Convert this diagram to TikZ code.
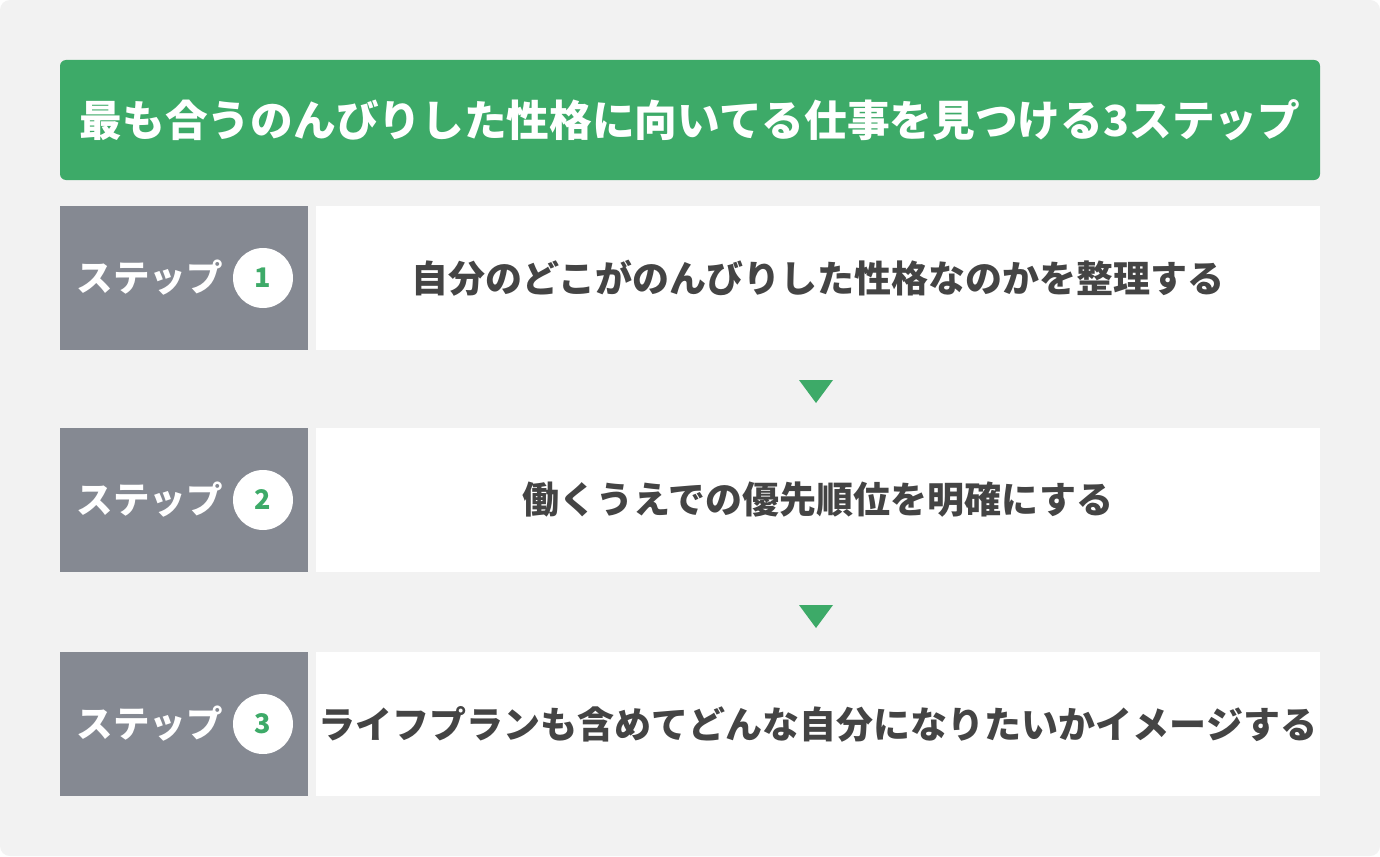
\documentclass[tikz,border=0pt]{standalone}
\usepackage{fontspec}
\newfontfamily\jp{Noto Sans CJK JP}
\definecolor{bgc}{HTML}{F2F2F2}
\definecolor{grn}{HTML}{3DAA68}
\definecolor{gry}{HTML}{858992}
\definecolor{txt}{HTML}{444444}
\tikzset{
  stepbox/.style={fill=gry, draw=none, minimum width=248pt, minimum height=144pt, inner sep=0pt},
  textbox/.style={fill=white, draw=none, minimum width=1004pt, minimum height=144pt, inner sep=0pt, text=txt, font=\jp\bfseries\fontsize{37}{40}\selectfont},
  steplabel/.style={text=white, font=\jp\bfseries\fontsize{36.5}{40}\selectfont, inner sep=0pt, anchor=east},
  numc/.style={circle, fill=white, minimum size=60pt, inner sep=0pt, text=grn, font=\jp\bfseries\fontsize{27}{30}\selectfont},
  tri/.style={fill=grn, draw=none}
}
\begin{document}
\begin{tikzpicture}[x=1pt,y=-1pt]
\useasboundingbox (0,0) rectangle (1380,856);
\fill[white] (0,0) rectangle (1380,856);
\fill[bgc, rounded corners=10pt] (0,0) rectangle (1380,856);
\node[fill=grn, rounded corners=6pt, minimum width=1260pt, minimum height=120pt, inner sep=0pt, text=white, font=\jp\bfseries\fontsize{42.7}{46}\selectfont] (title) at (690,120) {最も合うのんびりした性格に向いてる仕事を見つける3ステップ};
\foreach \i/\y/\t in {1/278/{自分のどこがのんびりした性格なのかを整理する},2/500/{働くうえでの優先順位を明確にする},3/724/{ライフプランも含めてどんな自分になりたいかイメージする}}{
  \node[stepbox] (s\i) at (184,\y) {};
  \node[textbox] (b\i) at (818,\y) {\t};
  \node[numc] (n\i) at (263,\y) {\i};
  \node[steplabel] (l\i) at (223,\y) {ステップ};
}
\fill[tri] (799,380) -- (833,380) -- (816,403) -- cycle;
\fill[tri] (799,605) -- (833,605) -- (816,628) -- cycle;
\end{tikzpicture}
\end{document}
